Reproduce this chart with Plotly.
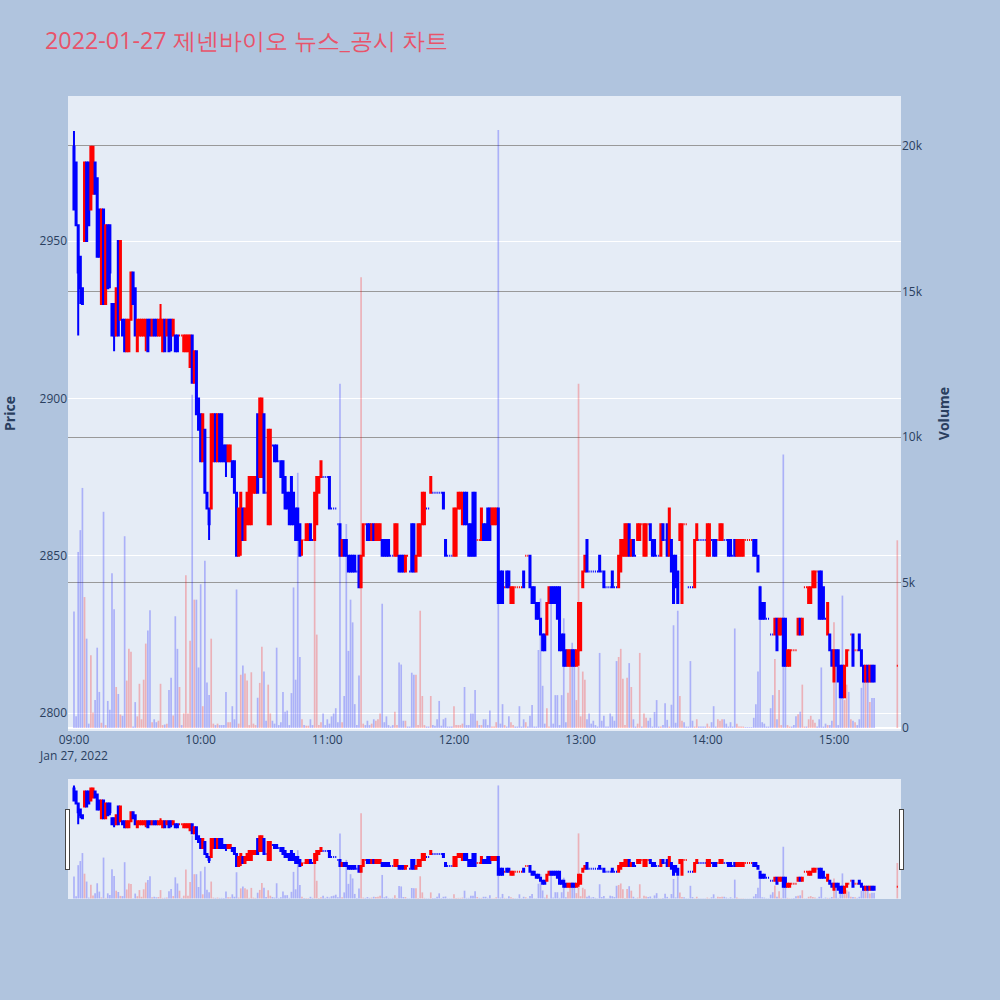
import pandas as pd
import plotly.graph_objects as go
from plotly.subplots import make_subplots

# minutes after 09:00 (continuous session to 15:19, closing auction 15:30)
minutes = list(range(380)) + [390]

opens = [
    2980, 2975, 2955, 2945, 2935, 2950, 2975, 2975, 2960, 2965,
    2975, 2970, 2960, 2930, 2960, 2930, 2955, 2955, 2930, 2930,
    2920, 2950, 2925, 2925, 2925, 2915, 2915, 2925, 2940, 2935,
    2915, 2920, 2920, 2920, 2920, 2925, 2925, 2920, 2925, 2925,
    2920, 2920, 2915, 2925, 2920, 2925, 2925, 2920, 2920, 2920,
    2920, 2920, 2915, 2915, 2915, 2910, 2920, 2905, 2915, 2900,
    2895, 2880, 2890, 2870, 2865, 2865, 2880, 2895, 2880, 2895,
    2895, 2885, 2885, 2880, 2880, 2880, 2880, 2870, 2850, 2855,
    2865, 2855, 2860, 2860, 2860, 2870, 2870, 2895, 2875, 2875,
    2895, 2870, 2860, 2860, 2885, 2885, 2885, 2880, 2880, 2880,
    2875, 2870, 2870, 2875, 2870, 2865, 2865, 2860, 2855, 2855,
    2855, 2855, 2860, 2855, 2855, 2860, 2870, 2875, 2875, 2875,
    2875, 2875, 2865, 2865, 2865, 2860, 2860, 2850, 2855, 2855,
    2850, 2850, 2850, 2850, 2845, 2850, 2840, 2850, 2860, 2860,
    2860, 2855, 2860, 2855, 2855, 2855, 2855, 2855, 2855, 2855,
    2850, 2850, 2850, 2850, 2850, 2850, 2850, 2845, 2850, 2845,
    2860, 2860, 2845, 2850, 2850, 2860, 2860, 2865, 2865, 2870,
    2870, 2870, 2870, 2870, 2870, 2870, 2855, 2850, 2850, 2850,
    2850, 2850, 2865, 2865, 2860, 2870, 2870, 2860, 2860, 2870,
    2870, 2855, 2855, 2855, 2860, 2860, 2865, 2865, 2860, 2860,
    2860, 2865, 2845, 2845, 2840, 2845, 2845, 2835, 2835, 2840,
    2840, 2840, 2840, 2845, 2850, 2850, 2850, 2840, 2840, 2835,
    2835, 2830, 2825, 2825, 2825, 2835, 2840, 2840, 2840, 2840,
    2840, 2825, 2825, 2820, 2815, 2815, 2820, 2820, 2815, 2820,
    2820, 2840, 2845, 2855, 2845, 2845, 2845, 2845, 2845, 2850,
    2845, 2845, 2840, 2840, 2840, 2845, 2840, 2840, 2840, 2845,
    2850, 2850, 2850, 2860, 2850, 2855, 2850, 2855, 2855, 2860,
    2850, 2850, 2860, 2860, 2855, 2855, 2850, 2850, 2850, 2860,
    2855, 2860, 2850, 2855, 2850, 2850, 2845, 2855, 2835, 2860,
    2860, 2840, 2840, 2840, 2840, 2855, 2855, 2855, 2855, 2855,
    2850, 2850, 2855, 2855, 2855, 2855, 2855, 2855, 2855, 2855,
    2855, 2855, 2850, 2855, 2850, 2850, 2850, 2850, 2855, 2855,
    2855, 2855, 2855, 2855, 2850, 2840, 2835, 2835, 2830, 2830,
    2825, 2825, 2825, 2830, 2825, 2825, 2830, 2830, 2815, 2815,
    2820, 2820, 2820, 2825, 2830, 2825, 2840, 2840, 2835, 2835,
    2840, 2840, 2845, 2845, 2845, 2840, 2830, 2825, 2825, 2820,
    2810, 2820, 2820, 2815, 2815, 2805, 2815, 2820, 2825, 2825,
    2820, 2820, 2825, 2820, 2815, 2810, 2815, 2810, 2815, 2815,
    2815,
]

highs = [
    2985, 2975, 2955, 2945, 2935, 2975, 2975, 2975, 2980, 2980,
    2975, 2970, 2960, 2960, 2960, 2955, 2955, 2955, 2930, 2930,
    2935, 2950, 2950, 2925, 2925, 2925, 2925, 2940, 2940, 2935,
    2925, 2925, 2925, 2925, 2925, 2925, 2925, 2925, 2925, 2925,
    2925, 2930, 2925, 2925, 2925, 2925, 2925, 2925, 2920, 2920,
    2920, 2920, 2920, 2920, 2920, 2920, 2920, 2915, 2915, 2900,
    2895, 2895, 2890, 2870, 2865, 2895, 2895, 2895, 2895, 2895,
    2895, 2885, 2885, 2885, 2885, 2880, 2880, 2870, 2865, 2870,
    2865, 2865, 2870, 2875, 2875, 2875, 2875, 2895, 2900, 2900,
    2895, 2870, 2890, 2890, 2885, 2885, 2885, 2880, 2880, 2880,
    2875, 2870, 2870, 2875, 2870, 2865, 2865, 2860, 2855, 2855,
    2860, 2860, 2860, 2855, 2870, 2875, 2875, 2880, 2875, 2875,
    2875, 2875, 2865, 2865, 2865, 2860, 2860, 2855, 2855, 2855,
    2850, 2850, 2850, 2850, 2845, 2850, 2850, 2860, 2860, 2860,
    2860, 2860, 2860, 2860, 2860, 2860, 2855, 2855, 2855, 2855,
    2850, 2850, 2860, 2860, 2850, 2850, 2850, 2850, 2850, 2845,
    2860, 2860, 2850, 2860, 2860, 2870, 2870, 2865, 2865, 2875,
    2870, 2870, 2870, 2870, 2870, 2870, 2855, 2850, 2850, 2850,
    2865, 2865, 2870, 2870, 2870, 2870, 2870, 2860, 2860, 2870,
    2870, 2855, 2855, 2865, 2860, 2860, 2865, 2865, 2865, 2865,
    2865, 2865, 2845, 2845, 2840, 2845, 2845, 2840, 2840, 2840,
    2840, 2840, 2840, 2845, 2850, 2850, 2850, 2840, 2840, 2835,
    2835, 2830, 2825, 2825, 2835, 2840, 2840, 2840, 2840, 2840,
    2840, 2825, 2825, 2820, 2820, 2820, 2820, 2820, 2820, 2835,
    2835, 2845, 2850, 2855, 2845, 2845, 2845, 2845, 2845, 2850,
    2845, 2845, 2840, 2840, 2840, 2845, 2840, 2840, 2850, 2855,
    2855, 2860, 2860, 2860, 2855, 2855, 2850, 2860, 2860, 2860,
    2860, 2860, 2860, 2860, 2855, 2855, 2850, 2850, 2860, 2860,
    2855, 2860, 2865, 2855, 2850, 2850, 2845, 2860, 2860, 2860,
    2860, 2840, 2840, 2840, 2855, 2860, 2855, 2855, 2855, 2855,
    2860, 2860, 2855, 2855, 2855, 2855, 2860, 2860, 2855, 2855,
    2855, 2855, 2850, 2855, 2855, 2855, 2855, 2855, 2855, 2855,
    2855, 2855, 2855, 2855, 2850, 2840, 2835, 2835, 2830, 2830,
    2825, 2825, 2830, 2830, 2830, 2830, 2830, 2830, 2820, 2820,
    2820, 2820, 2820, 2830, 2830, 2830, 2840, 2840, 2840, 2840,
    2845, 2845, 2845, 2845, 2845, 2840, 2830, 2835, 2825, 2820,
    2820, 2820, 2820, 2815, 2815, 2815, 2820, 2820, 2825, 2825,
    2820, 2820, 2825, 2820, 2815, 2815, 2815, 2815, 2815, 2815,
    2815,
]

lows = [
    2960, 2955, 2920, 2930, 2930, 2950, 2950, 2955, 2960, 2965,
    2965, 2945, 2945, 2930, 2930, 2930, 2935, 2935, 2920, 2915,
    2920, 2920, 2925, 2920, 2915, 2915, 2915, 2925, 2930, 2920,
    2915, 2920, 2920, 2920, 2915, 2915, 2920, 2920, 2920, 2920,
    2920, 2920, 2915, 2915, 2920, 2915, 2915, 2920, 2915, 2915,
    2920, 2920, 2915, 2915, 2915, 2910, 2905, 2905, 2895, 2890,
    2880, 2880, 2870, 2865, 2855, 2865, 2880, 2880, 2880, 2880,
    2880, 2880, 2875, 2880, 2880, 2875, 2870, 2850, 2850, 2850,
    2855, 2855, 2860, 2860, 2860, 2870, 2870, 2870, 2875, 2875,
    2870, 2870, 2860, 2860, 2885, 2880, 2880, 2880, 2875, 2870,
    2865, 2865, 2860, 2860, 2860, 2855, 2855, 2850, 2850, 2855,
    2855, 2855, 2855, 2855, 2855, 2860, 2870, 2875, 2875, 2875,
    2875, 2865, 2865, 2865, 2865, 2860, 2850, 2850, 2850, 2850,
    2845, 2845, 2845, 2845, 2845, 2840, 2840, 2850, 2860, 2855,
    2855, 2855, 2855, 2855, 2855, 2855, 2850, 2850, 2850, 2850,
    2850, 2850, 2850, 2850, 2845, 2845, 2845, 2845, 2850, 2845,
    2845, 2845, 2845, 2850, 2850, 2860, 2860, 2865, 2865, 2870,
    2870, 2870, 2870, 2870, 2870, 2865, 2850, 2850, 2850, 2850,
    2850, 2850, 2865, 2865, 2860, 2860, 2860, 2850, 2850, 2850,
    2850, 2855, 2855, 2855, 2855, 2855, 2855, 2855, 2860, 2860,
    2860, 2835, 2835, 2835, 2840, 2840, 2840, 2835, 2835, 2840,
    2840, 2840, 2840, 2840, 2850, 2850, 2840, 2835, 2835, 2830,
    2830, 2825, 2820, 2820, 2825, 2835, 2835, 2835, 2835, 2830,
    2820, 2820, 2815, 2815, 2815, 2815, 2815, 2815, 2815, 2815,
    2820, 2840, 2845, 2845, 2845, 2845, 2845, 2845, 2845, 2845,
    2845, 2840, 2840, 2840, 2840, 2840, 2840, 2840, 2840, 2845,
    2850, 2850, 2850, 2850, 2850, 2850, 2850, 2855, 2855, 2860,
    2850, 2850, 2860, 2855, 2850, 2850, 2850, 2850, 2850, 2855,
    2855, 2850, 2850, 2845, 2835, 2840, 2835, 2855, 2835, 2860,
    2860, 2840, 2840, 2840, 2840, 2855, 2855, 2855, 2855, 2855,
    2850, 2850, 2855, 2850, 2850, 2855, 2855, 2855, 2855, 2855,
    2850, 2850, 2850, 2850, 2850, 2850, 2850, 2850, 2855, 2855,
    2855, 2855, 2850, 2850, 2845, 2830, 2830, 2830, 2830, 2830,
    2825, 2825, 2825, 2820, 2825, 2825, 2815, 2815, 2815, 2815,
    2820, 2820, 2820, 2825, 2825, 2825, 2840, 2840, 2835, 2835,
    2840, 2840, 2845, 2830, 2830, 2830, 2830, 2825, 2820, 2815,
    2810, 2815, 2810, 2805, 2805, 2805, 2815, 2820, 2825, 2815,
    2820, 2820, 2820, 2815, 2810, 2810, 2810, 2810, 2810, 2810,
    2815,
]

closes = [
    2960, 2955, 2940, 2935, 2930, 2975, 2950, 2955, 2980, 2980,
    2965, 2945, 2945, 2960, 2930, 2955, 2935, 2940, 2920, 2920,
    2935, 2920, 2950, 2920, 2915, 2925, 2925, 2940, 2930, 2920,
    2925, 2925, 2925, 2925, 2925, 2915, 2920, 2925, 2920, 2920,
    2925, 2925, 2925, 2915, 2925, 2915, 2920, 2925, 2915, 2915,
    2920, 2920, 2920, 2920, 2920, 2920, 2905, 2915, 2895, 2890,
    2880, 2895, 2870, 2865, 2860, 2895, 2895, 2880, 2895, 2880,
    2880, 2880, 2880, 2885, 2885, 2875, 2870, 2850, 2865, 2870,
    2855, 2865, 2870, 2875, 2875, 2875, 2875, 2870, 2900, 2900,
    2870, 2870, 2890, 2890, 2885, 2880, 2880, 2880, 2875, 2870,
    2865, 2865, 2860, 2860, 2860, 2855, 2855, 2850, 2855, 2855,
    2860, 2860, 2855, 2855, 2870, 2875, 2875, 2880, 2875, 2875,
    2875, 2865, 2865, 2865, 2865, 2860, 2850, 2855, 2850, 2850,
    2845, 2845, 2845, 2845, 2845, 2840, 2850, 2860, 2860, 2855,
    2855, 2860, 2855, 2860, 2860, 2860, 2850, 2850, 2850, 2850,
    2850, 2850, 2860, 2860, 2845, 2845, 2845, 2850, 2850, 2845,
    2845, 2845, 2850, 2860, 2860, 2870, 2870, 2865, 2865, 2875,
    2870, 2870, 2870, 2870, 2870, 2865, 2850, 2850, 2850, 2850,
    2865, 2865, 2870, 2870, 2870, 2860, 2860, 2850, 2850, 2850,
    2850, 2855, 2855, 2865, 2855, 2855, 2855, 2855, 2865, 2865,
    2865, 2835, 2835, 2835, 2840, 2840, 2840, 2840, 2840, 2840,
    2840, 2840, 2840, 2840, 2850, 2850, 2840, 2835, 2835, 2830,
    2830, 2825, 2820, 2820, 2835, 2840, 2835, 2835, 2835, 2830,
    2820, 2820, 2815, 2815, 2820, 2820, 2815, 2815, 2820, 2835,
    2835, 2845, 2850, 2845, 2845, 2845, 2845, 2845, 2845, 2845,
    2845, 2840, 2840, 2840, 2840, 2840, 2840, 2840, 2850, 2855,
    2855, 2860, 2860, 2850, 2855, 2850, 2850, 2860, 2860, 2860,
    2860, 2860, 2860, 2855, 2850, 2850, 2850, 2850, 2860, 2855,
    2855, 2850, 2865, 2845, 2835, 2840, 2835, 2860, 2860, 2860,
    2860, 2840, 2840, 2840, 2855, 2860, 2855, 2855, 2855, 2855,
    2860, 2860, 2855, 2850, 2850, 2855, 2860, 2860, 2855, 2855,
    2850, 2850, 2850, 2850, 2855, 2855, 2855, 2855, 2855, 2855,
    2855, 2855, 2850, 2850, 2845, 2830, 2830, 2830, 2830, 2830,
    2825, 2825, 2830, 2820, 2830, 2830, 2815, 2815, 2820, 2820,
    2820, 2820, 2820, 2830, 2825, 2830, 2840, 2840, 2840, 2840,
    2845, 2845, 2845, 2830, 2830, 2830, 2830, 2835, 2820, 2815,
    2820, 2815, 2810, 2805, 2805, 2815, 2820, 2820, 2825, 2815,
    2820, 2820, 2820, 2815, 2810, 2815, 2810, 2815, 2810, 2810,
    2815,
]

volumes = [
    4000, 400, 6050, 6800, 8250, 4500, 3070, 150, 2500, 535,
    960, 2760, 1240, 180, 7430, 100, 930, 630, 5320, 4080,
    1410, 1170, 465, 420, 6590, 1630, 2720, 2620, 50, 890,
    400, 1520, 300, 1660, 2900, 3350, 4050, 200, 300, 200,
    250, 1520, 100, 120, 150, 1310, 1730, 430, 3840, 2720,
    1410, 100, 500, 5250, 500, 3000, 11450, 4410, 4410, 2080,
    4940, 750, 5750, 1560, 1130, 3070, 150, 100, 150, 100,
    100, 100, 1240, 200, 200, 750, 300, 4760, 150, 1830,
    2150, 1870, 1630, 100, 1915, 150, 100, 1040, 1550, 2790,
    1940, 250, 1490, 500, 250, 150, 2760, 100, 200, 1240,
    560, 600, 100, 1200, 4830, 1660, 8770, 2440, 300, 100,
    80, 80, 300, 100, 6800, 3210, 100, 200, 500, 100,
    300, 150, 400, 500, 680, 200, 11830, 200, 1100, 7010,
    2650, 4410, 3630, 820, 100, 1800, 15490, 150, 100, 250,
    100, 150, 300, 250, 300, 500, 4270, 200, 400, 100,
    50, 100, 560, 100, 2250, 2180, 250, 250, 50, 50,
    1900, 1830, 1830, 100, 4030, 1100, 100, 50, 50, 1100,
    100, 80, 300, 930, 80, 300, 350, 50, 50, 50,
    750, 100, 100, 100, 150, 1410, 100, 100, 500, 500,
    1310, 250, 100, 100, 300, 300, 100, 600, 50, 50,
    200, 20550, 150, 820, 100, 50, 400, 200, 100, 50,
    50, 750, 50, 300, 200, 50, 420, 790, 50, 50,
    2680, 4450, 1450, 150, 680, 50, 4450, 150, 1130, 1130,
    100, 1130, 3770, 200, 1210, 2650, 2930, 2370, 960, 11830,
    400, 1940, 1660, 300, 500, 150, 250, 100, 50, 2580,
    250, 420, 50, 50, 500, 400, 250, 2300, 2440, 2720,
    1690, 100, 1730, 2230, 1410, 300, 50, 150, 2580, 50,
    500, 350, 250, 350, 50, 550, 960, 50, 50, 100,
    850, 280, 50, 800, 3530, 180, 4030, 1100, 250, 200,
    50, 50, 2300, 250, 50, 300, 50, 50, 50, 50,
    150, 50, 200, 750, 50, 300, 250, 300, 300, 150,
    50, 200, 50, 3420, 150, 50, 50, 50, 30, 30,
    30, 30, 350, 820, 1940, 4900, 200, 150, 50, 50,
    680, 1130, 2370, 300, 1310, 100, 9400, 3630, 100, 50,
    50, 100, 400, 470, 560, 1490, 50, 50, 300, 420,
    280, 180, 50, 300, 2080, 50, 150, 100, 100, 250,
    3630, 2650, 100, 1270, 4550, 960, 1490, 1240, 300, 250,
    200, 100, 300, 1380, 1660, 1970, 1730, 890, 1030, 1030,
    6450,
]

title_text = "2022-01-27 제넨바이오 뉴스_공시 차트"

times = pd.Timestamp("2022-01-27 09:00") + pd.to_timedelta(minutes, unit="m")

# volume colour follows the direction of the candle
vol_colors = []
prev_close = None
for o, c in zip(opens, closes):
    up = c > o or (c == o and prev_close is not None and c > prev_close)
    vol_colors.append("rgba(255,0,0,0.25)" if up else "rgba(0,0,255,0.25)")
    prev_close = c

fig = make_subplots(specs=[[{"secondary_y": True}]])
fig.add_trace(
    go.Candlestick(
        x=times, open=opens, high=highs, low=lows, close=closes,
        increasing=dict(line=dict(color="red"), fillcolor="red"),
        decreasing=dict(line=dict(color="blue"), fillcolor="blue"),
        name="Price", showlegend=False,
    ),
    secondary_y=False,
)
fig.add_trace(
    go.Bar(
        x=times, y=volumes, marker=dict(color=vol_colors, line=dict(width=0)),
        name="Volume", showlegend=False,
    ),
    secondary_y=True,
)

fig.update_layout(
    width=1000, height=1000,
    paper_bgcolor="lightsteelblue",
    title=dict(text=title_text, x=0.045, xanchor="left", y=0.959, yanchor="middle",
               font=dict(size=23.3, color="#e8536a")),
    margin=dict(l=68, r=99, t=96, b=269, autoexpand=False),
    showlegend=False,
)
fig.update_xaxes(domain=[0, 1],
                 range=["2022-01-27 08:57:10", "2022-01-27 15:31:45"],
                 rangeslider=dict(visible=True, thickness=0.189))
fig.update_yaxes(title=dict(text="<b>Price</b>", standoff=22),
                 range=[2794.3, 2996.1], secondary_y=False)
fig.update_yaxes(title=dict(text="<b>Volume</b>", standoff=17),
                 range=[-103, 21718], gridcolor="#999999", secondary_y=True)

fig.write_html("out.html", config={"displayModeBar": False},
               post_script="document.body.style.margin='0';")
